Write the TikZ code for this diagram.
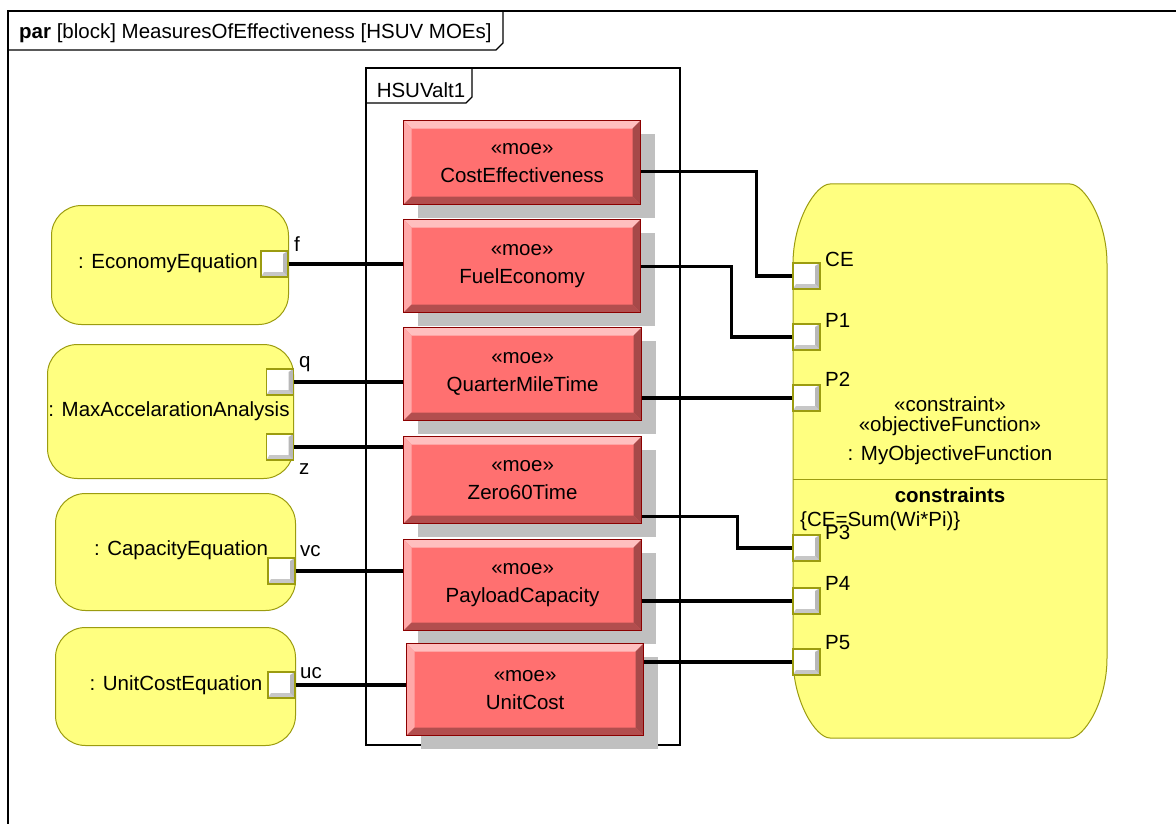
\documentclass[tikz,border=0pt]{standalone}
\usepackage{fontspec}
\setmainfont{Liberation Sans}
\usetikzlibrary{calc,shadows}
\definecolor{moered}{HTML}{FF7070}
\definecolor{moeborder}{HTML}{8B0000}
\definecolor{cyellow}{HTML}{FFFF80}
\definecolor{cborder}{HTML}{9C9C10}
\definecolor{shadowgray}{HTML}{C0C0C0}
\tikzset{
  txt/.style={font=\fontsize{20.5}{24}\selectfont, inner sep=0},
  conn/.style={line width=3.2pt, line join=miter},
  moe/.style={anchor=north west, draw=moeborder, line width=1.2pt, fill=moered,
    inner sep=0, align=center, font=\fontsize{20.5}{28}\selectfont,
    drop shadow={shadow xshift=14pt, shadow yshift=-13pt, fill=shadowgray, opacity=1},
    path picture={
      \fill[white!55!moered] (path picture bounding box.north west) -- (path picture bounding box.north east)
        -- ([shift={(-8,8)}]path picture bounding box.north east) -- ([shift={(8,8)}]path picture bounding box.north west) -- cycle;
      \fill[white!40!moered] (path picture bounding box.north west) -- (path picture bounding box.south west)
        -- ([shift={(8,-8)}]path picture bounding box.south west) -- ([shift={(8,8)}]path picture bounding box.north west) -- cycle;
      \fill[black!30!moered] (path picture bounding box.south west) -- (path picture bounding box.south east)
        -- ([shift={(-8,-8)}]path picture bounding box.south east) -- ([shift={(8,-8)}]path picture bounding box.south west) -- cycle;
      \fill[black!35!moered] (path picture bounding box.north east) -- (path picture bounding box.south east)
        -- ([shift={(-8,-8)}]path picture bounding box.south east) -- ([shift={(-8,8)}]path picture bounding box.north east) -- cycle;
    }},
  cblock/.style={anchor=north west, draw=cborder, line width=1pt, fill=cyellow,
    rounded corners=30pt, inner sep=0, font=\fontsize{20.5}{24}\selectfont},
  port/.style={draw=cborder, fill=white, line width=1.4pt, minimum width=27pt,
    minimum height=26pt, inner sep=0,
    path picture={
      \fill[black!22] (path picture bounding box.south west) -- (path picture bounding box.south east)
        -- ([shift={(-5,-5)}]path picture bounding box.south east) -- ([shift={(3,-5)}]path picture bounding box.south west) -- cycle;
      \fill[black!28] (path picture bounding box.north east) -- (path picture bounding box.south east)
        -- ([shift={(-5,-5)}]path picture bounding box.south east) -- ([shift={(-5,3)}]path picture bounding box.north east) -- cycle;
    }},
}
\begin{document}
\begin{tikzpicture}[x=1pt,y=-1pt]
\useasboundingbox (0,0) rectangle (1176,824);
\fill[white] (0,0) rectangle (1176,824);
% outer frame
\draw[line width=1.2pt] (8,830) -- (8,11) -- (1180,11);
\draw[line width=1.2pt] (8,50) -- (496,50) -- (503,43) -- (503,11);
\node[txt, anchor=west] (title) at (19,33) {\textbf{par} [block] MeasuresOfEffectiveness [HSUV MOEs]};
% HSUValt1
\draw[line width=1.4pt] (366,68) rectangle (680,745);
\draw[line width=1.2pt] (366,103) -- (466,103) -- (472,97) -- (472,68);
\node[txt] (alt) at (421,90) {HSUValt1};

% MOE blocks
\node[moe, minimum width=237pt, minimum height=84pt] (cost) at (403,120) {«moe»\\CostEffectiveness};
\node[moe, minimum width=237pt, minimum height=93pt] (fuel) at (403,219) {«moe»\\FuelEconomy};
\node[moe, minimum width=238pt, minimum height=93pt] (qmt) at (403,327) {«moe»\\QuarterMileTime};
\node[moe, minimum width=238pt, minimum height=87pt] (z60) at (403,436) {«moe»\\Zero60Time};
\node[moe, minimum width=238pt, minimum height=91pt] (pay) at (403,539) {«moe»\\PayloadCapacity};
\node[moe, minimum width=237pt, minimum height=92pt] (unit) at (406,643) {«moe»\\UnitCost};

% left constraint blocks
\node[cblock, minimum width=237pt, minimum height=119pt] (econ) at (51,205) {};
\node[txt] at (168,263) {: EconomyEquation};
\node[cblock, minimum width=246pt, minimum height=134pt] (maxacc) at (47,344) {};
\node[txt] at (169,411) {: MaxAccelarationAnalysis};
\node[cblock, minimum width=240pt, minimum height=117pt] (cap) at (55,493) {};
\node[txt] at (181,550) {: CapacityEquation};
\node[cblock, minimum width=240pt, minimum height=118pt] (uce) at (55,627) {};
\node[txt] at (176,685) {: UnitCostEquation};

% left ports
\node[port] (pf) at (274.5,264) {};
\node[port] (pq) at (280,382) {};
\node[port] (pz) at (280,447) {};
\node[port] (pvc) at (281.5,571) {};
\node[port] (puc) at (281.5,685) {};
\node[txt, anchor=west] at (294,244) {f};
\node[txt, anchor=west] at (299,364) {q};
\node[txt, anchor=west] at (299,469) {z};
\node[txt, anchor=west] at (300,551) {vc};
\node[txt, anchor=west] at (300,673) {uc};

% right objective function block
\fill[cyellow] (793,264) .. controls (793,220) and (816,184) .. (830,184) -- (1070,184)
  .. controls (1084,184) and (1107,220) .. (1107,264) -- (1107,658)
  .. controls (1107,702) and (1084,738) .. (1070,738) -- (830,738)
  .. controls (816,738) and (793,702) .. (793,658) -- cycle;
\draw[cborder, line width=1pt] (793,264) .. controls (793,220) and (816,184) .. (830,184) -- (1070,184)
  .. controls (1084,184) and (1107,220) .. (1107,264) -- (1107,658)
  .. controls (1107,702) and (1084,738) .. (1070,738) -- (830,738)
  .. controls (816,738) and (793,702) .. (793,658) -- cycle;
\node[minimum width=314pt, minimum height=554pt, inner sep=0, anchor=north west] (obj) at (793,184) {};
\draw[cborder, line width=1pt] (793,479) -- (1107,479);
\node[txt] at (950,404) {«constraint»};
\node[txt] at (950,426) {«objectiveFunction»};
\node[txt] at (950,455) {: MyObjectiveFunction};
\node[txt] at (950,495) {\bfseries constraints};
\node[txt, anchor=west] at (800,521) {\{CE=Sum(Wi*Pi)\}};

% right ports
\node[port] (pce) at (806.5,276) {};
\node[port] (pp1) at (806.5,337) {};
\node[port] (pp2) at (806.5,398) {};
\node[port] (pp3) at (806.5,548) {};
\node[port] (pp4) at (806.5,601) {};
\node[port] (pp5) at (806.5,662) {};
\node[txt, anchor=west] at (825,259) {CE};
\node[txt, anchor=west] at (825,320) {P1};
\node[txt, anchor=west] at (825,379) {P2};
\node[txt, anchor=west] at (825,532) {P3};
\node[txt, anchor=west] at (825,583) {P4};
\node[txt, anchor=west] at (825,643) {P5};

% connectors left
\draw[conn] (pf.east) -- (pf.east -| fuel.west);
\draw[conn] (pq.east) -- (pq.east -| qmt.west);
\draw[conn] (pz.east) -- (pz.east -| z60.west);
\draw[conn] (pvc.east) -- (pvc.east -| pay.west);
\draw[conn] (puc.east) -- (puc.east -| unit.west);
% connectors right
\draw[conn] ($(cost.east)+(0,9)$) -| ($(pce.west)+(-36,0)$) -- (pce.west);
\draw[conn] (fuel.east) -| ($(pp1.west)+(-61,0)$) -- (pp1.west);
\draw[conn] (pp2.west) -- (pp2.west -| qmt.east);
\draw[conn] ($(z60.east)+(0,36)$) -| ($(pp3.west)+(-55,0)$) -- (pp3.west);
\draw[conn] (pp4.west) -- (pp4.west -| pay.east);
\draw[conn] (pp5.west) -- (pp5.west -| unit.east);
\end{tikzpicture}
\end{document}
